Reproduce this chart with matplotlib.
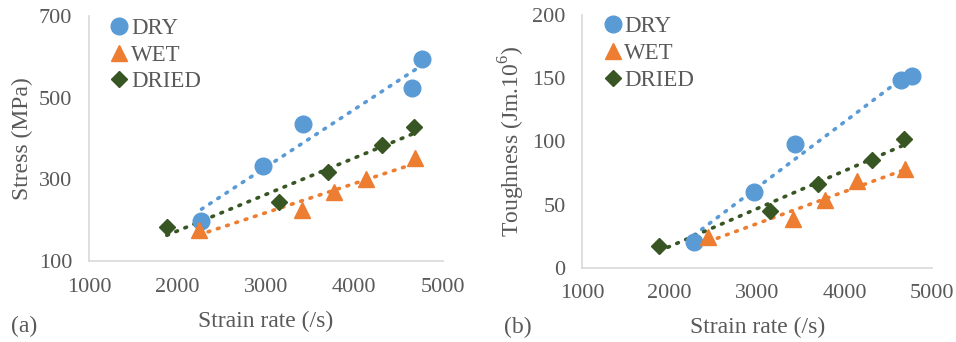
import numpy as np
import matplotlib
matplotlib.use("Agg")
import matplotlib.pyplot as plt

plt.rcParams['font.family'] = ['Liberation Serif', 'DejaVu Serif']
plt.rcParams['mathtext.fontset'] = 'custom'
plt.rcParams['mathtext.rm'] = 'Liberation Serif'

# (a) stress vs strain rate
dry_rate_a = [2273, 2966, 3418, 4650, 4767]
dry_stress = [198, 332, 436, 523, 594]
wet_rate_a = [2243, 3407, 3776, 4134, 4692]
wet_stress = [177, 226, 268, 300, 352]
dried_rate_a = [1881, 3144, 3701, 4311, 4672]
dried_stress = [182, 245, 317, 384, 428]

# (b) toughness vs strain rate
dry_rate_b = [2276, 2962, 3427, 4650, 4775]
dry_tough = [20.6, 59.6, 97.9, 148.5, 151.7]
wet_rate_b = [2440, 3408, 3781, 4143, 4695]
wet_tough = [24, 38.3, 53.6, 68.9, 77.8]
dried_rate_b = [1876, 3145, 3697, 4314, 4676]
dried_tough = [17.2, 45.1, 66, 85.2, 101.8]

labels = ["DRY", "WET", "DRIED"]
colors = ["#5B9BD5", "#ED7D31", "#375623"]
markers = ["o", "^", "D"]
msizes = [12, 12, 8.5]
grey = "#595959"


def trend(ax, x, y, c):
    # linear trendline
    x = np.array(x, float)
    y = np.array(y, float)
    k, b = np.polyfit(x, y, 1)
    xs = np.array([x.min(), x.max()])
    ax.plot(xs, k * xs + b, linestyle=(0, (0.5, 2.2)), color=c,
            linewidth=2.6, dash_capstyle='round', zorder=2)


def panel(ax, series, ylim, yticks, ylabel):
    for (x, y), c in zip(series, colors):
        trend(ax, x, y, c)
    for (x, y), lab, c, m, ms in zip(series, labels, colors, markers, msizes):
        ax.plot(x, y, linestyle='none', marker=m, markersize=ms, color=c,
                label=lab, zorder=3)
    ax.set_xlim(1000, 5000)
    ax.set_xticks([1000, 2000, 3000, 4000, 5000])
    ax.set_ylim(*ylim)
    ax.set_yticks(yticks)
    for s in ['top', 'right']:
        ax.spines[s].set_visible(False)
    for s in ['left', 'bottom']:
        ax.spines[s].set_color("#d9d9d9")
        ax.spines[s].set_linewidth(1.2)
    ax.tick_params(length=0, labelsize=16, labelcolor=grey, pad=12)
    ax.set_xlabel("Strain rate (/s)", fontsize=17, color=grey, labelpad=10)
    ax.set_ylabel(ylabel, fontsize=17, color=grey, labelpad=4)
    leg = ax.legend(loc='upper left', frameon=False, fontsize=16.5,
                    handletextpad=-0.1, borderaxespad=0.1, labelspacing=0.25,
                    bbox_to_anchor=(0.015, 1.04), handlelength=1.2)
    for t in leg.get_texts():
        t.set_color(grey)


fig = plt.figure(figsize=(9.56, 3.42), dpi=100)
ax1 = fig.add_axes([0.093, 0.237, 0.370, 0.716])
ax2 = fig.add_axes([0.609, 0.217, 0.366, 0.739])

panel(ax1, [(dry_rate_a, dry_stress), (wet_rate_a, wet_stress), (dried_rate_a, dried_stress)],
      (100, 700), [100, 300, 500, 700], "Stress (MPa)")
panel(ax2, [(dry_rate_b, dry_tough), (wet_rate_b, wet_tough), (dried_rate_b, dried_tough)],
      (0, 200), [0, 50, 100, 150, 200], "Toughness (Jm.10$^{6}$)")

fig.text(0.012, 0.03, "(a)", fontsize=17, color=grey)
fig.text(0.527, 0.025, "(b)", fontsize=17, color=grey)

fig.savefig("out.png", dpi=100)
